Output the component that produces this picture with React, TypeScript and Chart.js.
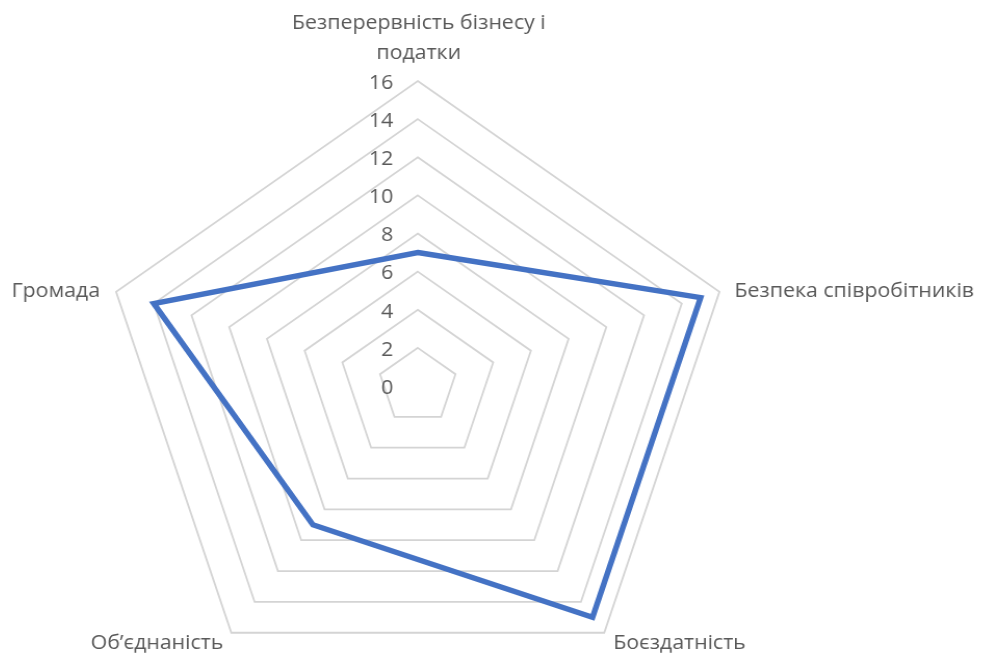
import React, { useEffect, useRef } from "react";
import { Chart, registerables } from "chart.js";

Chart.register(...registerables);

const categories: string[][] = [
  ["Безперервність бізнесу і", "податки"],
  ["Безпека співробітників"],
  ["Боєздатність"],
  ["Об’єднаність"],
  ["Громада"],
];
const seriesValues: number[] = [7, 15, 15, 9, 14];
const tickLabels: number[] = [0, 2, 4, 6, 8, 10, 12, 14, 16];

const STRETCH = 1.04;
const TEXT_COLOR = "#595959";
const FONT = '20.5px "Open Sans", "Noto Sans", sans-serif';

// label placement relative to the outer vertex (canvas px)
const labelAlign: CanvasTextAlign[] = ["center", "left", "left", "right", "right"];
const labelDx: number[] = [1, 14.4, 8.7, -7.7, -15.4];
const labelDy: number[] = [-58, -1, 10, 10, -1];
const lineGap = 30;

const labelsPlugin = {
  id: "customLabels",
  afterDraw(chart: any) {
    const scale = chart.scales.r;
    const ctx = chart.ctx as CanvasRenderingContext2D;
    ctx.save();
    ctx.font = FONT;
    ctx.fillStyle = TEXT_COLOR;
    ctx.textBaseline = "middle";
    // tick labels
    ctx.textAlign = "right";
    for (const v of tickLabels) {
      const d = scale.getDistanceFromCenterForValue(v);
      ctx.fillText(String(v), scale.xCenter - 23.6, scale.yCenter - d + 2);
    }
    // point labels
    const max = tickLabels[tickLabels.length - 1];
    categories.forEach((lines, i) => {
      const p = scale.getPointPositionForValue(i, max);
      ctx.textAlign = labelAlign[i];
      lines.forEach((line, j) => {
        ctx.fillText(line, p.x + labelDx[i], p.y + labelDy[i] + j * lineGap);
      });
    });
    ctx.restore();
  },
};

export default function App() {
  const ref = useRef<HTMLCanvasElement>(null);
  useEffect(() => {
    if (!ref.current) return;
    const chart = new Chart(ref.current, {
      type: "radar",
      data: {
        labels: categories.map((c) => c.join(" ")),
        datasets: [
          {
            data: seriesValues,
            borderColor: "#4472C4",
            borderWidth: 5.5,
            pointRadius: 0,
            pointHoverRadius: 0,
            fill: false,
            tension: 0,
          },
        ],
      },
      options: {
        responsive: false,
        animation: false,
        layout: { padding: { left: 89, right: 241, top: 0, bottom: 4 } },
        plugins: { legend: { display: false }, tooltip: { enabled: false } },
        scales: {
          r: {
            min: 0,
            max: 16,
            ticks: { display: false, stepSize: 2 },
            grid: { color: "#d4d4d4", lineWidth: 1.8 },
            angleLines: { display: false },
            pointLabels: { display: false },
          },
        },
      },
      plugins: [labelsPlugin],
    });
    return () => chart.destroy();
  }, []);
  return (
    <div style={{ width: 976, height: 647, overflow: "hidden", background: "#fff" }}>
      <canvas
        ref={ref}
        width={940}
        height={760}
        style={{
          display: "block",
          width: 940,
          height: 760,
          transform: `scaleX(${STRETCH})`,
          transformOrigin: "0 0",
        }}
      />
    </div>
  );
}
